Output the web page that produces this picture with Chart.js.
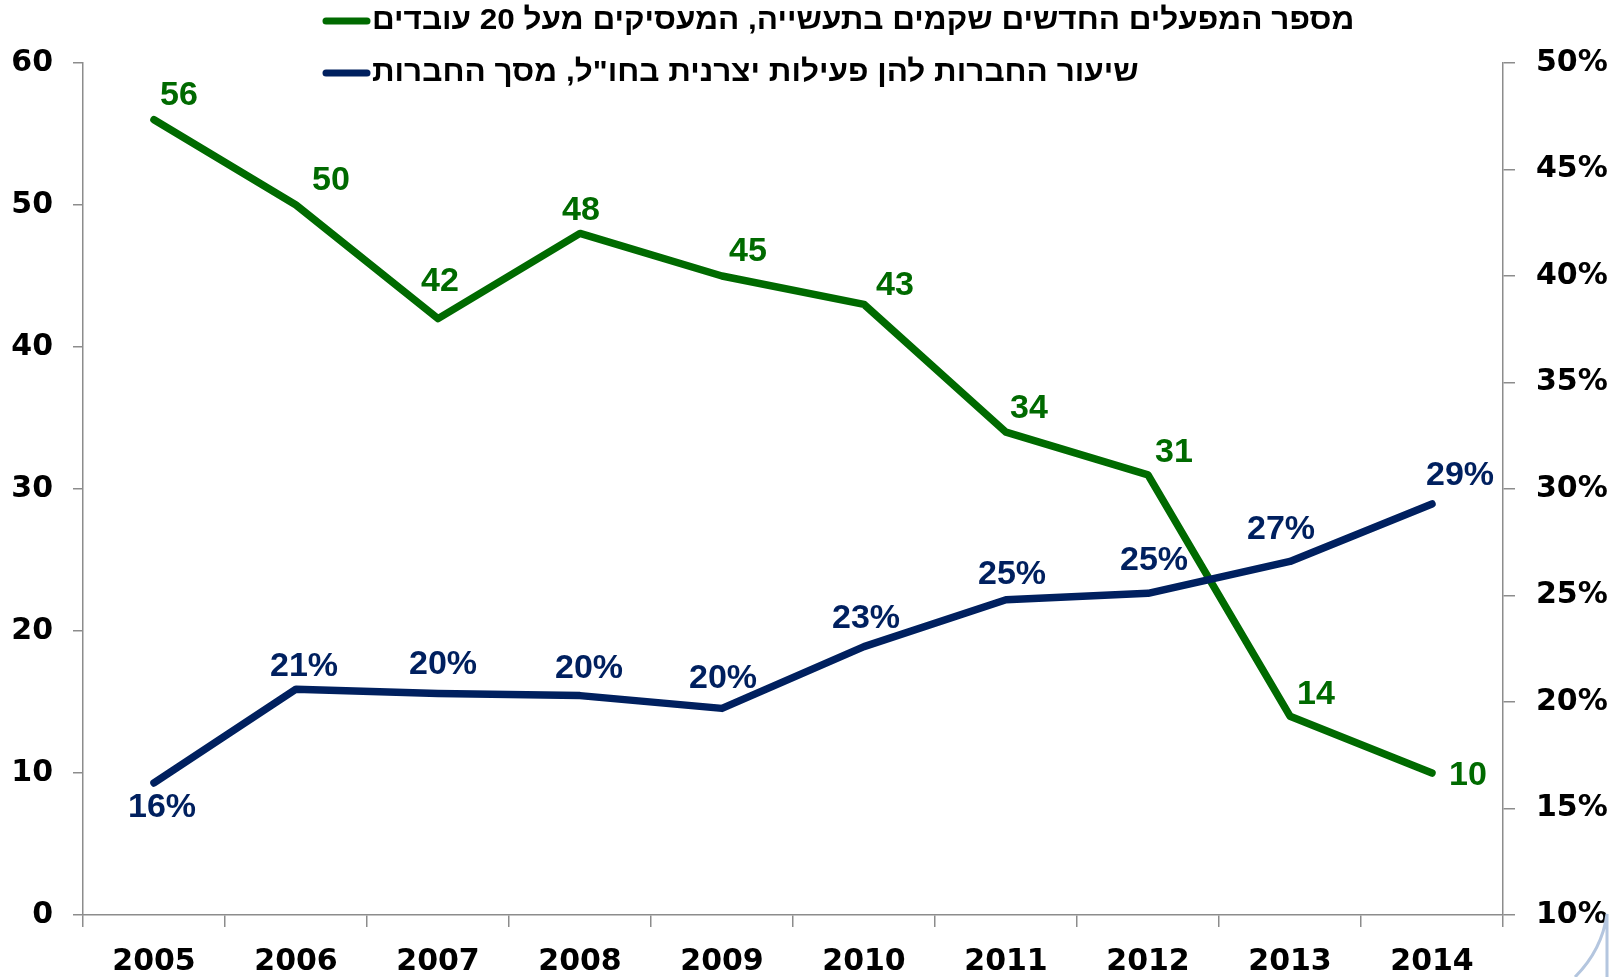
<!DOCTYPE html>
<html lang="he">
<head>
<meta charset="utf-8">
<title>מפעלים חדשים ופעילות יצרנית בחו"ל</title>
<script src="https://cdn.jsdelivr.net/npm/chart.js@4.4.1/dist/chart.umd.min.js"></script>
<style>
  html, body { margin: 0; padding: 0; background: #fff; }
  #wrap { width: 1621px; height: 977px; }
</style>
</head>
<body>
<div id="wrap"><canvas id="chart" width="1621" height="977"></canvas></div>
<script>
// data
var years = ['2005', '2006', '2007', '2008', '2009', '2010', '2011', '2012', '2013', '2014'];
var newPlants = [56, 50, 42, 48, 45, 43, 34, 31, 14, 10];
var abroadShare = [16.2, 20.6, 20.4, 20.3, 19.7, 22.6, 24.8, 25.1, 26.6, 29.3];
var leftTicks = [0, 10, 20, 30, 40, 50, 60];
var rightTicks = [10, 15, 20, 25, 30, 35, 40, 45, 50];
var seriesNames = [
  'מספר המפעלים החדשים שקמים בתעשייה, המעסיקים מעל 20 עובדים',
  'שיעור החברות להן פעילות יצרנית בחו"ל, מסך החברות'
];

var GREEN = '#006a00';
var BLUE = '#00205f';
var AXIS = '#8c8c8c';
var tickFont = { family: '"DejaVu Sans", sans-serif', size: 30, weight: 'bold' };

// value labels next to each point
var pointLabels = {
  id: 'pointLabels',
  afterDatasetsDraw: function(chart, args, opts) {
    var ctx = chart.ctx;
    ctx.save();
    ctx.font = 'bold 34px "Liberation Sans", Arial, sans-serif';
    ctx.textAlign = 'center';
    ctx.textBaseline = 'middle';
    chart.data.datasets.forEach(function(ds, i) {
      var meta = chart.getDatasetMeta(i);
      var offs = opts.offsets[i];
      ctx.fillStyle = ds.borderColor;
      meta.data.forEach(function(pt, j) {
        var v = ds.data[j];
        var txt = ds.yAxisID === 'y1' ? Math.round(v) + '%' : String(v);
        ctx.fillText(txt, pt.x + offs[j][0], pt.y + offs[j][1]);
      });
    });
    ctx.restore();
  }
};

// legend: marker on the left, hebrew text to its right
var sideLegend = {
  id: 'sideLegend',
  afterDraw: function(chart, args, opts) {
    var ctx = chart.ctx;
    ctx.save();
    ctx.font = 'bold ' + opts.fontSize + 'px "Liberation Sans", Arial, sans-serif';
    ctx.textBaseline = 'middle';
    chart.data.datasets.forEach(function(ds, i) {
      var y = opts.top + i * opts.lineGap;
      ctx.strokeStyle = ds.borderColor;
      ctx.lineWidth = 7;
      ctx.lineCap = 'round';
      ctx.beginPath();
      ctx.moveTo(opts.left + 4, y);
      ctx.lineTo(opts.left + 45, y);
      ctx.stroke();
      ctx.fillStyle = '#000';
      ctx.direction = 'rtl';
      ctx.textAlign = 'left';
      ctx.save();
      ctx.translate(opts.left + 50, y);
      ctx.scale(opts.stretch, 1);
      ctx.fillText(ds.label, 0, 0);
      ctx.restore();
    });
    ctx.restore();
  }
};

// light slide decoration in the bottom right corner
var cornerMark = {
  id: 'cornerMark',
  afterDraw: function(chart) {
    var ctx = chart.ctx;
    ctx.save();
    ctx.strokeStyle = '#b4c6df';
    ctx.lineWidth = 3;
    ctx.beginPath();
    ctx.moveTo(1575, 977);
    ctx.quadraticCurveTo(1602, 950, 1607, 914);
    ctx.lineTo(1607, 977);
    ctx.stroke();
    ctx.restore();
  }
};

new Chart(document.getElementById('chart').getContext('2d'), {
  type: 'line',
  data: {
    labels: years,
    datasets: [
      {
        label: seriesNames[0],
        data: newPlants,
        yAxisID: 'y',
        borderColor: GREEN,
        backgroundColor: GREEN,
        borderWidth: 7.5,
        borderCapStyle: 'round',
        borderJoinStyle: 'round',
        pointRadius: 0,
        tension: 0,
        order: 1
      },
      {
        label: seriesNames[1],
        data: abroadShare,
        yAxisID: 'y1',
        borderColor: BLUE,
        backgroundColor: BLUE,
        borderWidth: 7.5,
        borderCapStyle: 'round',
        borderJoinStyle: 'round',
        pointRadius: 0,
        tension: 0,
        order: 0
      }
    ]
  },
  options: {
    responsive: false,
    animation: false,
    layout: { padding: { top: 63, left: 0, right: 0, bottom: 0 } },
    plugins: {
      legend: { display: false },
      tooltip: { enabled: false },
      pointLabels: {
        offsets: [
          [[25, -24], [35, -24], [2, -37], [1, -23], [26, -24], [31, -19], [23, -24], [26, -22], [26, -22], [36, 3]],
          [[8, 25], [8, -23], [5, -29], [9, -27], [1, -30], [2, -28], [6, -25], [6, -33], [-9, -32], [28, -28]]
        ]
      },
      sideLegend: { left: 322, top: 21, lineGap: 52, fontSize: 30, stretch: 1.05 }
    },
    scales: {
      x: {
        type: 'category',
        offset: true,
        grid: { offset: true, drawOnChartArea: false, drawTicks: true, tickLength: 12, color: AXIS, lineWidth: 1.5 },
        border: { color: AXIS, width: 1.5 },
        ticks: { font: tickFont, color: '#000', padding: 17, maxRotation: 0, autoSkip: false },
        afterFit: function(s) { s.height = 62; }
      },
      y: {
        position: 'left',
        min: 0,
        max: 60,
        afterBuildTicks: function(s) { s.ticks = leftTicks.map(function(v) { return { value: v }; }); },
        grid: { drawOnChartArea: false, drawTicks: true, tickLength: 10, color: AXIS, lineWidth: 1.5 },
        border: { color: AXIS, width: 1.5 },
        ticks: { font: tickFont, color: '#000', padding: 20 },
        afterFit: function(s) { s.width = 83; }
      },
      y1: {
        position: 'right',
        min: 10,
        max: 50,
        afterBuildTicks: function(s) { s.ticks = rightTicks.map(function(v) { return { value: v }; }); },
        grid: { drawOnChartArea: false, drawTicks: true, tickLength: 12, color: AXIS, lineWidth: 1.5 },
        border: { color: AXIS, width: 1.5 },
        ticks: { font: tickFont, color: '#000', padding: 21, callback: function(v) { return v + '%'; } },
        afterFit: function(s) { s.width = 118; }
      }
    }
  },
  plugins: [pointLabels, sideLegend, cornerMark]
});
</script>
</body>
</html>
